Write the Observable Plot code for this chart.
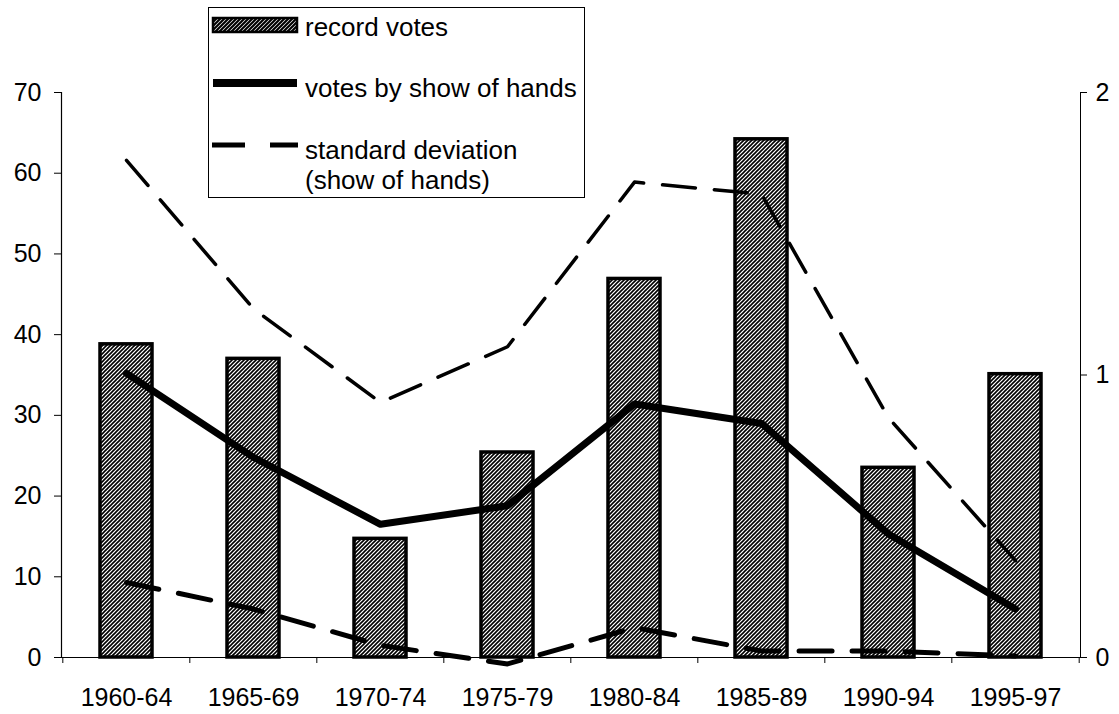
<!DOCTYPE html>
<html>
<head>
<meta charset="utf-8">
<script src="https://cdn.jsdelivr.net/npm/d3@7"></script>
<script src="https://cdn.jsdelivr.net/npm/@observablehq/plot@0.6"></script>
<style>
html, body { margin: 0; padding: 0; background: #fff; }
#wrap { position: relative; width: 1119px; height: 714px; overflow: hidden; font-family: "Liberation Sans", Arial, sans-serif; }
#chart { position: absolute; left: 0; top: 0; }
#legend { position: absolute; left: 208px; top: 7px; }
</style>
</head>
<body>
<div id="wrap">
  <div id="chart"></div>
  <svg id="legend" width="377" height="191" xmlns="http://www.w3.org/2000/svg" font-family="Liberation Sans, Arial, sans-serif" font-size="26">
    <defs>
      <pattern id="hatchL" patternUnits="userSpaceOnUse" width="4" height="4">
        <rect width="4" height="4" fill="#fff"/>
        <path d="M-1,1 l2,-2 M0,4 l4,-4 M3,5 l2,-2" stroke="#000" stroke-width="2.2"/>
      </pattern>
    </defs>
    <rect x="0.5" y="0.5" width="376" height="190" fill="#fff" stroke="#000" stroke-width="1"/>
    <g id="legendItems"></g>
  </svg>
</div>
<script>
// ---- data ----
const periods = ["1960-64", "1965-69", "1970-74", "1975-79", "1980-84", "1985-89", "1990-94", "1995-97"];
const recordVotes = [38.8, 37.0, 14.7, 25.4, 46.9, 64.2, 23.5, 35.1];
const showOfHands = [35.2, 24.8, 16.5, 18.8, 31.4, 29.0, 15.3, 6.0];
const sdUpper = [61.6, 43.2, 31.6, 38.5, 58.9, 57.4, 29.7, 12.0];
const sdLower = [9.3, 6.0, 1.5, -0.8, 3.7, 0.8, 0.8, 0.2];
const leftTicks = [0, 10, 20, 30, 40, 50, 60, 70];
const rightTicks = [0, 1, 2];
const legendLabels = ["record votes", "votes by show of hands", "standard deviation", "(show of hands)"];

const leftMax = leftTicks[leftTicks.length - 1];
const rightMax = rightTicks[rightTicks.length - 1];
const ratio = leftMax / rightMax;

const rows = periods.map((p, i) => ({
  period: p, record: recordVotes[i], hands: showOfHands[i], sdHigh: sdUpper[i], sdLow: sdLower[i]
}));

const W = 1119, H = 714, mL = 61, mR = 39, mT = 92, mB = 57;
const step = (W - mL - mR) / periods.length;
const font = "Liberation Sans, Arial, sans-serif";

const chart = Plot.plot({
  width: W, height: H,
  marginLeft: mL, marginRight: mR, marginTop: mT, marginBottom: mB,
  style: { fontFamily: font, fontSize: "25px", color: "#000", background: "transparent", overflow: "visible" },
  x: { type: "band", domain: periods, paddingInner: 0.59, paddingOuter: 0.295, label: null },
  y: { domain: [0, leftMax], label: null },
  marks: [
    Plot.barY(rows, { x: "period", y: "record", fill: "url(#hatch)", stroke: "#000", strokeWidth: 3.5 }),
    Plot.ruleY([0], { stroke: "#000", strokeWidth: 1.2 }),
    Plot.frame({ anchor: "left", stroke: "#000", strokeWidth: 1.2 }),
    Plot.frame({ anchor: "right", stroke: "#000", strokeWidth: 1 }),
    Plot.axisY({ anchor: "left", ticks: leftTicks, tickSize: 7, tickPadding: 13, label: null, fontSize: 25 }),
    Plot.axisY({ anchor: "right", ticks: rightTicks.map(t => t * ratio), tickFormat: d => String(d / ratio), tickSize: 6, tickPadding: 9, label: null, fontSize: 25 }),
    Plot.axisX({ anchor: "bottom", tickSize: 0, tickPadding: 31, label: null, fontSize: 25 }),
    Plot.axisX({ anchor: "bottom", tickSize: 6, tickFormat: () => "", label: null, dx: -step / 2 }),
    Plot.axisX({ anchor: "bottom", ticks: [periods[periods.length - 1]], tickSize: 6, tickFormat: () => "", label: null, dx: step / 2 }),
    Plot.lineY(rows, { x: "period", y: "sdHigh", stroke: "#000", strokeWidth: 3.5, strokeDasharray: "33,19" }),
    Plot.lineY(rows, { x: "period", y: "sdLow", stroke: "#000", strokeWidth: 5, strokeDasharray: "33,20" }),
    Plot.lineY(rows, { x: "period", y: "hands", stroke: "#000", strokeWidth: 7 })
  ]
});

const ns = "http://www.w3.org/2000/svg";
const defs = document.createElementNS(ns, "defs");
defs.innerHTML = '<pattern id="hatch" patternUnits="userSpaceOnUse" width="4" height="4">' +
  '<rect width="4" height="4" fill="#fff"/>' +
  '<path d="M-1,1 l2,-2 M0,4 l4,-4 M3,5 l2,-2" stroke="#000" stroke-width="1.6"/></pattern>';
chart.insertBefore(defs, chart.firstChild);
document.getElementById("chart").appendChild(chart);

// ---- legend ----
const g = document.getElementById("legendItems");
g.innerHTML =
  '<rect x="5" y="11" width="84" height="14" fill="url(#hatchL)" stroke="#000" stroke-width="2.5"/>' +
  '<line x1="5" x2="89" y1="76" y2="76" stroke="#000" stroke-width="8"/>' +
  '<line x1="4" x2="90" y1="138" y2="138" stroke="#000" stroke-width="5" stroke-dasharray="33,25"/>';
const ys = [29, 90, 152, 182];
legendLabels.forEach((t, i) => {
  const el = document.createElementNS(ns, "text");
  el.setAttribute("x", 97);
  el.setAttribute("y", ys[i]);
  el.textContent = t;
  g.appendChild(el);
});
</script>
</body>
</html>
